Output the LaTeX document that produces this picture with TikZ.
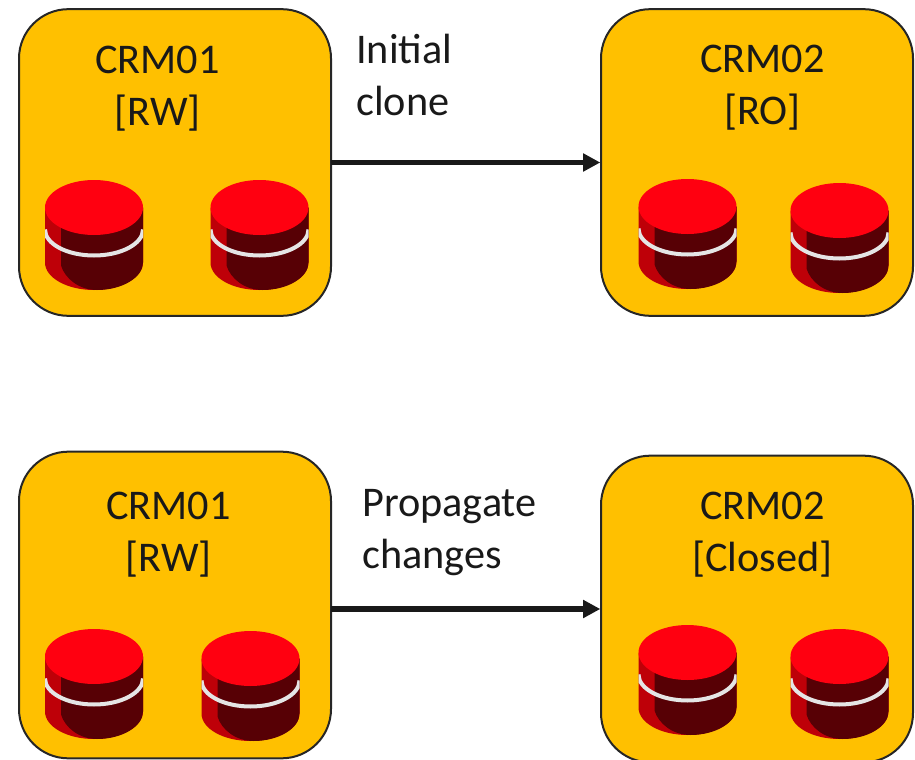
\documentclass[tikz,border=0pt]{standalone}
\usepackage{fontspec}
\setmainfont{Carlito}
\usetikzlibrary{arrows.meta}
\definecolor{amber}{HTML}{FFC000}
\definecolor{dbtop}{HTML}{FF0010}
\definecolor{dbside}{HTML}{BE0008}
\definecolor{dbdark}{HTML}{570005}
\tikzset{
  x=0.75pt,y=-0.75pt,
  box/.style={draw=black!85,line width=1.5pt,fill=amber,rounded corners=37pt,minimum width=234pt,minimum height=230pt,inner sep=0pt,outer sep=0pt},
  lbl/.style={font=\fontsize{31.7pt}{39pt}\selectfont,align=center,text=black!90,inner sep=0pt},
  note/.style={font=\fontsize{31.7pt}{39pt}\selectfont,align=left,text=black!90,inner sep=0pt,anchor=north west},
  link/.style={draw=black!90,line width=4pt,-{Triangle[length=13pt,width=13pt]},shorten >=0.5pt},
  pics/dbcyl/.style={code={
    % side body
    \fill[dbside] (-49,0) -- (-49,55) arc[start angle=180,end angle=0,x radius=49,y radius=27.5] -- (49,0) -- cycle;
    % dark front
    \fill[dbdark] (-33,20) -- (-33,58) .. controls (-29,71) and (-15,82.5) .. (3,82.5)
       .. controls (28,82.5) and (49,70) .. (49,55) -- (49,0) -- cycle;
    % white band
    \begin{scope}
    \clip (-49,0) rectangle (49,83);
    \draw[white!90!black,line width=3pt] (-49,22) arc[start angle=180,end angle=0,x radius=49,y radius=26];
    \end{scope}
    % top
    \fill[dbtop] (0,0) ellipse[x radius=49,y radius=27.5];
  }}
}
\begin{document}
\begin{tikzpicture}
\useasboundingbox (0,0) rectangle (915,760);
\begin{scope}
\clip (0,0) rectangle (915,760);
\node[box] (a) at (175,162.5) {};
\node[box] (b) at (757,162.5) {};
\node[box] (c) at (175,605) {};
\node[box] (d) at (757,609) {};
\end{scope}
\pic at (94,207.5) {dbcyl};
\pic at (259.5,207.5) {dbcyl};
\pic at (687.5,206.5) {dbcyl};
\pic at (839.5,210.5) {dbcyl};
\pic at (94,656.5) {dbcyl};
\pic at (250.5,658.5) {dbcyl};
\pic at (687.5,652.5) {dbcyl};
\pic at (839.5,656.5) {dbcyl};
\node[lbl] (la) at (157.5,88.5) {CRM01\\{[RW]}};
\node[lbl] (lb) at (762.5,87.5) {CRM02\\{[RO]}};
\node[lbl] (lc) at (168.5,535) {CRM01\\{[RW]}};
\node[lbl] (ld) at (762.5,535) {CRM02\\{[Closed]}};
\node[note] (n1) at (356,34) {Initial\\clone};
\node[note] (n2) at (362,489) {Propagate\\changes};
\draw[link] (a.east) -- (b.west);
\draw[link] (c.east|-d.west) -- (d.west);
\end{tikzpicture}
\end{document}
